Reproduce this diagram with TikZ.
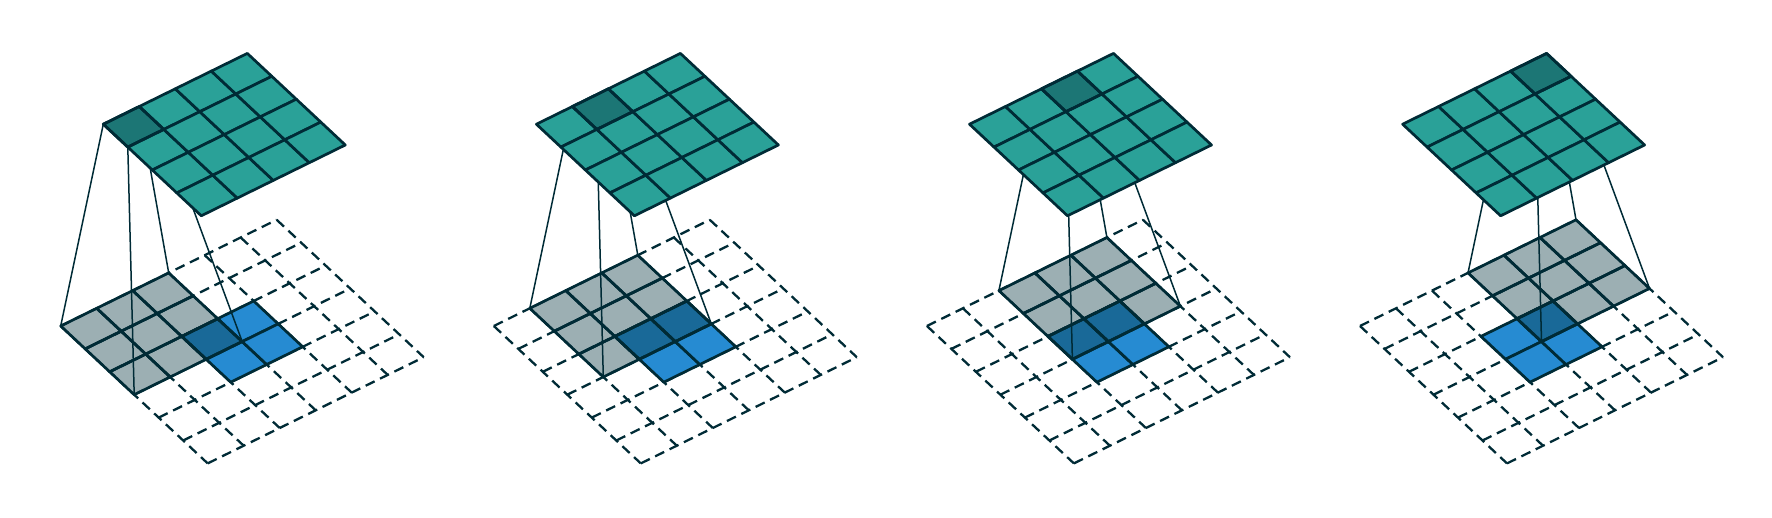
\documentclass[tikz,border=0pt]{standalone}
\usepackage[usenames,dvipsnames,svgnames,table]{xcolor}
\usepackage{tikz}

\definecolor{base03}{RGB}{0,43,54}
\definecolor{base02}{RGB}{7,54,66}
\definecolor{solcyan}{RGB}{42,161,152}
\definecolor{solblue}{RGB}{38,139,210}

\begin{document}
\begin{tikzpicture}[x=0.5pt, y=-0.5pt, line join=round,
	ground/.style={x={(18pt,8.85pt)}, y={(12.25pt,-11.45pt)}},
	gridline/.style={draw=base03, line width=1.35pt},
	dashline/.style={draw=base03, line width=1.15pt, dash pattern=on 5pt off 3pt},
	wire/.style={draw=base03, line width=0.75pt},
	incell/.style={gridline, fill=solblue},
	outcell/.style={gridline, fill=solcyan},
	shade/.style={gridline, fill=base02, fill opacity=0.4}]
	\useasboundingbox (0,0) rectangle (1772,518);
	\foreach \k in {0,...,3}{
		\pgfmathtruncatemacro{\kk}{\k+2}
		\begin{scope}[shift={(60.7+433.1*\k,326)}, ground]
			\foreach \i in {0,...,6}{
				\draw[dashline] (\i,0) -- (\i,6);
				\draw[dashline] (0,\i) -- (6,\i);
			}
			\foreach \col in {2,3} \foreach \row in {2,3}
				\path[incell] (\col,\row) -- ++(1,0) -- ++(0,1) -- ++(-1,0) -- cycle;
			\foreach \col in {\k,...,\kk} \foreach \row in {0,1,2}
				\path[shade] (\col,\row) -- ++(1,0) -- ++(0,1) -- ++(-1,0) -- cycle;
			\coordinate (k0) at (\k,0);
			\coordinate (k1) at (\k+3,0);
			\coordinate (k2) at (\k,3);
			\coordinate (k3) at (\k+3,3);
		\end{scope}
		\begin{scope}[shift={(103.3+433.1*\k,124.2)}, ground]
			\coordinate (t0) at (\k,0);
			\coordinate (t1) at (\k+1,0);
			\coordinate (t2) at (\k,1);
			\coordinate (t3) at (\k+1,1);
			\draw[wire] (t0) -- (k0) (t1) -- (k1) (t2) -- (k2) (t3) -- (k3);
			\foreach \col in {0,...,3} \foreach \row in {0,...,3}
				\path[outcell] (\col,\row) -- ++(1,0) -- ++(0,1) -- ++(-1,0) -- cycle;
			\path[shade] (t0) -- (t1) -- (t3) -- (t2) -- cycle;
		\end{scope}
	}
\end{tikzpicture}
\end{document}
